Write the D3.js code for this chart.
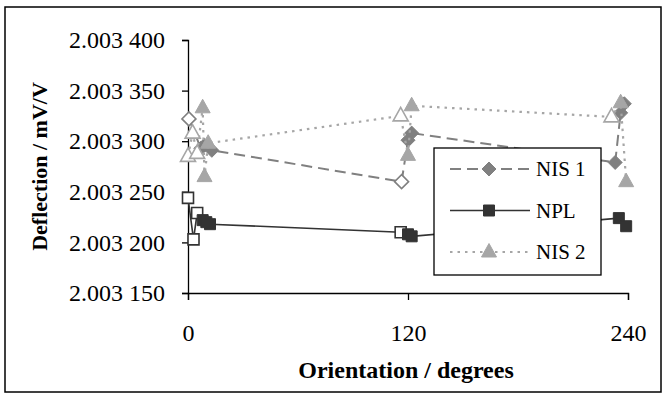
<!DOCTYPE html>
<html>
<head>
<meta charset="utf-8">
<script src="https://cdn.jsdelivr.net/npm/d3@7"></script>
<style>
  body { margin: 0; background: #fff; }
  svg { display: block; font-family: "Liberation Serif", "Times New Roman", serif; }
</style>
</head>
<body>
<script>
// readings: orientation (degrees), deflection (mV/V); "initial" = first reading after rotation (open marker)
const seriesNames = ['NIS 1', 'NPL', 'NIS 2'];

const nis1Orient = [0.5, 7, 9, 13, 116.5, 120, 122, 233, 236, 238];
const nis1Value = [2.003322, 2.003293, 2.003296, 2.003291, 2.003260, 2.003301, 2.003308, 2.003279, 2.003328, 2.003337];
const nis1Initial = [0, 4];

const nplOrient = [0, 3, 5, 8, 10, 12, 116, 120, 122, 235, 239];
const nplValue = [2.003244, 2.003203, 2.003229, 2.003222, 2.003220, 2.003218, 2.003210, 2.003208, 2.003206, 2.003224, 2.003216];
const nplInitial = [0, 1, 2, 6];

const nis2Orient = [0, 2.5, 5, 8, 9, 11, 116, 120, 122, 231, 236, 239];
const nis2Value = [2.003285, 2.003308, 2.003288, 2.003333, 2.003265, 2.003298, 2.003325, 2.003286, 2.003335, 2.003324, 2.003338, 2.003260];
const nis2Initial = [0, 1, 2, 6, 9];

const xTicks = [0, 120, 240];
const yTicks = [2.00315, 2.0032, 2.00325, 2.0033, 2.00335, 2.0034];

const width = 667, height = 399;

const svg = d3.select('body').append('svg')
  .attr('width', width)
  .attr('height', height);

// outer chart frame
svg.append('rect')
  .attr('x', 5).attr('y', 7)
  .attr('width', 656).attr('height', 385)
  .attr('fill', '#fff')
  .attr('stroke', '#000')
  .attr('stroke-width', 1.5);

const x = d3.scaleLinear().domain([0, 240]).range([188, 628]);
const y = d3.scaleLinear().domain([2.00315, 2.0034]).range([293, 40]);

const fmtY = d => {
  const s = d3.format('.6f')(d);
  return s.slice(0, 5) + ' ' + s.slice(5);
};

const yAxis = svg.append('g')
  .attr('transform', `translate(${x(0)},0)`)
  .call(d3.axisLeft(y).tickValues(yTicks).tickFormat(fmtY).tickSize(6).tickPadding(17));

const xAxis = svg.append('g')
  .attr('transform', `translate(0,${y(2.00315)})`)
  .call(d3.axisBottom(x).tickValues(xTicks).tickSize(7).tickPadding(24));

[xAxis, yAxis].forEach(g => {
  g.select('.domain').attr('stroke', '#000').attr('stroke-width', 1.3);
  g.selectAll('.tick line').attr('stroke', '#000').attr('stroke-width', 1.3);
  g.selectAll('.tick text').attr('fill', '#000').attr('font-size', 24)
    .attr('font-family', '"Liberation Serif", serif');
});

svg.append('text')
  .attr('x', 406).attr('y', 378)
  .attr('text-anchor', 'middle')
  .attr('font-size', 24).attr('font-weight', 'bold')
  .text('Orientation / degrees');

svg.append('text')
  .attr('transform', `translate(47,${(y(2.0034) + y(2.00315)) / 2}) rotate(-90)`)
  .attr('text-anchor', 'middle')
  .attr('font-size', 22).attr('font-weight', 'bold')
  .text('Deflection / mV/V');

const styles = [
  { color: '#808080', dash: '11,6', width: 2, shape: 'diamond' },
  { color: '#333333', dash: null, width: 1.6, shape: 'square' },
  { color: '#a6a6a6', dash: '2.5,5', width: 2.2, shape: 'triangle' }
];

const seriesData = [
  { xs: nis1Orient, ys: nis1Value, init: nis1Initial },
  { xs: nplOrient, ys: nplValue, init: nplInitial },
  { xs: nis2Orient, ys: nis2Value, init: nis2Initial }
];

function markerPath(shape) {
  if (shape === 'diamond') return 'M0,-7L7,0L0,7L-7,0Z';
  if (shape === 'square') return 'M-5.5,-5.5H5.5V5.5H-5.5Z';
  return 'M0,-8.5L7.5,5H-7.5Z';
}

const line = d3.line().x(d => x(d[0])).y(d => y(d[1]));

seriesData.forEach((s, i) => {
  const st = styles[i];
  const pts = s.xs.map((v, j) => [v, s.ys[j], s.init.includes(j)]);
  const g = svg.append('g');
  g.append('path')
    .attr('d', line(pts))
    .attr('fill', 'none')
    .attr('stroke', st.color)
    .attr('stroke-width', st.width)
    .attr('stroke-dasharray', st.dash);
  g.selectAll('path.m')
    .data(pts)
    .join('path')
    .attr('class', 'm')
    .attr('transform', d => `translate(${x(d[0])},${y(d[1])})`)
    .attr('d', markerPath(st.shape))
    .attr('fill', d => d[2] ? '#fff' : st.color)
    .attr('stroke', st.color)
    .attr('stroke-width', d => d[2] ? 1.6 : 1);
});

// legend
const lg = svg.append('g');
lg.append('rect')
  .attr('x', 434).attr('y', 148)
  .attr('width', 167).attr('height', 127)
  .attr('fill', '#fff')
  .attr('stroke', '#000')
  .attr('stroke-width', 1.3);

seriesNames.forEach((name, i) => {
  const st = styles[i];
  const ly = 169 + i * 41.5;
  lg.append('line')
    .attr('x1', 450).attr('x2', 530)
    .attr('y1', ly).attr('y2', ly)
    .attr('stroke', st.color)
    .attr('stroke-width', st.width)
    .attr('stroke-dasharray', st.dash);
  lg.append('path')
    .attr('transform', `translate(489,${ly})`)
    .attr('d', markerPath(st.shape))
    .attr('fill', st.color)
    .attr('stroke', st.color);
  lg.append('text')
    .attr('x', 536).attr('y', ly)
    .attr('dy', '0.35em')
    .attr('font-size', 21)
    .text(name);
});
</script>
</body>
</html>
